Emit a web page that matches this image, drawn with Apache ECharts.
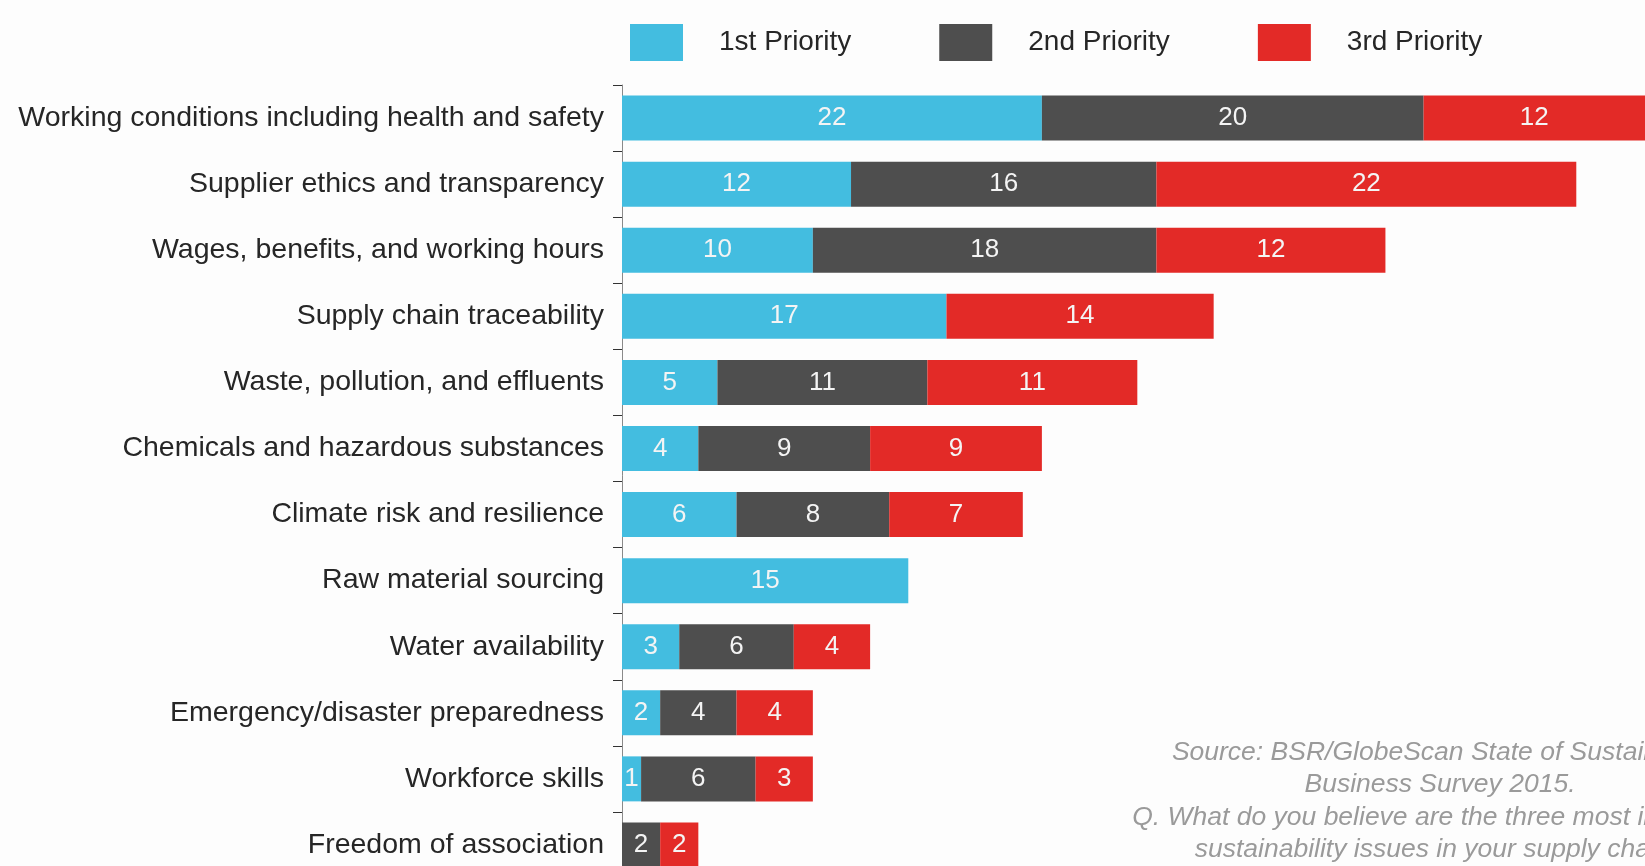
<!DOCTYPE html>
<html>
<head>
<meta charset="utf-8">
<script src="https://cdn.jsdelivr.net/npm/echarts@6/dist/echarts.min.js"></script>
<style>
  html, body { margin: 0; padding: 0; background: #fdfdfd; }
  #chart { width: 1645px; height: 866px; }
</style>
</head>
<body>
<div id="chart"></div>
<script>
var categories = [
  'Working conditions including health and safety',
  'Supplier ethics and transparency',
  'Wages, benefits, and working hours',
  'Supply chain traceability',
  'Waste, pollution, and effluents',
  'Chemicals and hazardous substances',
  'Climate risk and resilience',
  'Raw material sourcing',
  'Water availability',
  'Emergency/disaster preparedness',
  'Workforce skills',
  'Freedom of association'
];
var seriesNames = ['1st Priority', '2nd Priority', '3rd Priority'];
var firstPriority = [22, 12, 10, 17, 5, 4, 6, 15, 3, 2, 1, 0];
var secondPriority = [20, 16, 18, 0, 11, 9, 8, 0, 6, 4, 6, 2];
var thirdPriority = [12, 22, 12, 14, 11, 9, 7, 0, 4, 4, 3, 2];
var sourceLines = [
  'Source: BSR/GlobeScan State of Sustainable',
  'Business Survey 2015.',
  'Q. What do you believe are the three most important',
  'sustainability issues in your supply chain?'
];

var chart = echarts.init(document.getElementById('chart'));
var colors = ['#43bde0', '#4e4e4e', '#e32a27'];
var font = '"Liberation Sans", Arial, sans-serif';

function makeSeries(name, data) {
  return {
    name: name,
    type: 'bar',
    stack: 'total',
    barWidth: 45,
    data: data,
    label: {
      show: true,
      position: 'inside',
      color: '#f4f4f4',
      fontFamily: font,
      fontSize: 26,
      formatter: function (p) { return p.value ? p.value : ''; }
    }
  };
}

var option = {
  backgroundColor: '#fdfdfd',
  animation: false,
  color: colors,
  legend: {
    left: 625,
    top: 19,
    icon: 'rect',
    itemWidth: 53,
    itemHeight: 37,
    itemGap: 88,
    data: seriesNames,
    textStyle: {
      fontFamily: font,
      fontSize: 28,
      color: '#262626',
      padding: [0, 0, 0, 31]
    }
  },
  grid: {
    left: 622,
    right: 0,
    top: 85,
    height: 793,
    outerBoundsMode: 'none'
  },
  xAxis: {
    type: 'value',
    min: 0,
    max: 53.6,
    show: false,
    splitLine: { show: false }
  },
  yAxis: {
    type: 'category',
    inverse: true,
    data: categories,
    axisLine: { show: true, lineStyle: { color: '#8a8a8a', width: 1 } },
    axisTick: { show: true, length: 9, lineStyle: { color: '#333' } },
    axisLabel: {
      margin: 18,
      fontFamily: font,
      fontSize: 28.5,
      color: '#262626'
    }
  },
  graphic: [{
    type: 'text',
    x: 1440,
    y: 736,
    style: {
      text: sourceLines.join('\n'),
      align: 'center',
      verticalAlign: 'top',
      lineHeight: 32.5,
      font: 'italic 26.5px "Liberation Sans", Arial, sans-serif',
      fill: '#9a9a9a'
    }
  }],
  series: [
    makeSeries(seriesNames[0], firstPriority),
    makeSeries(seriesNames[1], secondPriority),
    makeSeries(seriesNames[2], thirdPriority)
  ]
};
chart.setOption(option);
</script>
</body>
</html>
